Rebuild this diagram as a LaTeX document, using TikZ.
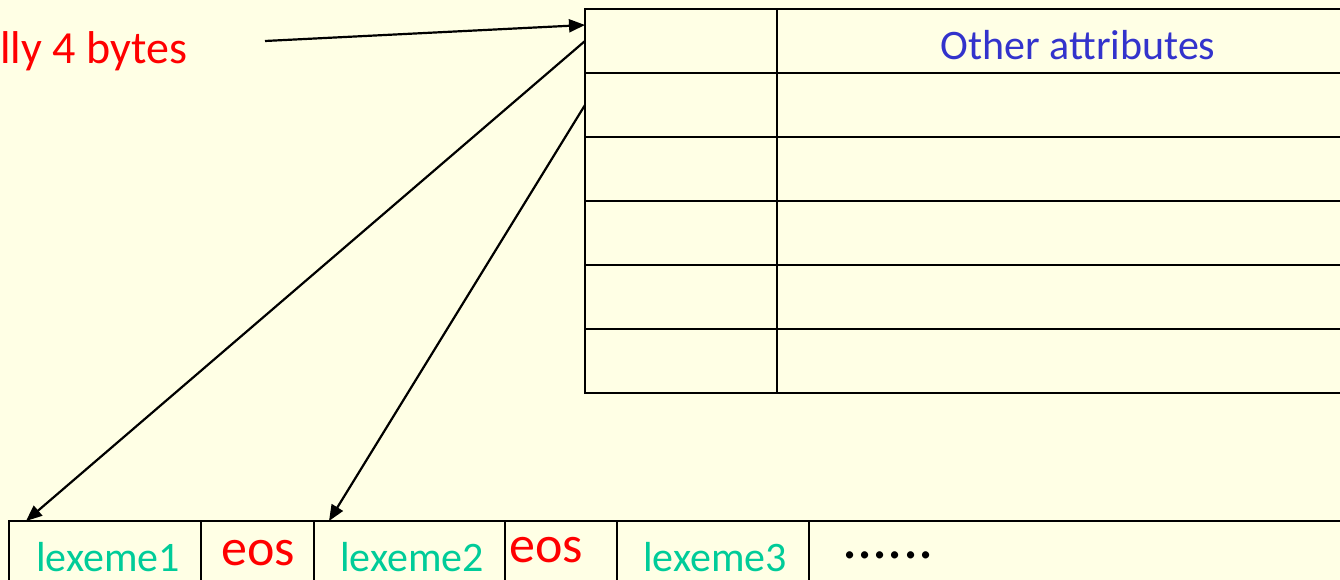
\documentclass[tikz,border=0pt]{standalone}
\usepackage{fontspec}
\setmainfont{Carlito}
\usetikzlibrary{arrows.meta,calc}
\definecolor{bgyellow}{RGB}{255,255,229}
\definecolor{attrblue}{RGB}{51,51,204}
\definecolor{lexgreen}{RGB}{0,204,153}
\definecolor{eosred}{RGB}{255,0,0}
\begin{document}
\begin{tikzpicture}[x=1pt,y=-1pt,
  cellbox/.style={draw=black,line width=2.2pt,minimum width=#1,minimum height=64pt,inner sep=0pt,outer sep=0pt,anchor=north west},
  lowbox/.style={draw=black,line width=2.2pt,minimum width=#1,minimum height=100pt,inner sep=0pt,outer sep=0pt,anchor=north west},
  ptr/.style={-{Triangle[length=16pt,width=13pt]},line width=2.2pt},
  lextext/.style={text=lexgreen,inner sep=0pt,anchor=base,font=\fontsize{42}{50}\selectfont},
  eostext/.style={text=eosred,inner sep=0pt,anchor=base,font=\fontsize{52}{60}\selectfont}]
\useasboundingbox (0,0) rectangle (1340,580);
\fill[bgyellow] (0,0) rectangle (1340,580);
\begin{scope}
\clip (0,0) rectangle (1340,580);
% table
\foreach \k in {1,...,6}{
  \node[cellbox=192pt] (c\k) at (585,{9+64*(\k-1)}) {};
  \node[cellbox=600pt] (a\k) at (777,{9+64*(\k-1)}) {};
}
\node[text=attrblue,inner sep=0pt,anchor=base,font=\fontsize{42}{50}\selectfont] (oa) at (1078,60) {Other attributes};
% lexeme row
\node[lowbox=192pt] (b1) at (9,521) {};
\node[lowbox=113pt] (e1) at (201,521) {};
\node[lowbox=191pt] (b2) at (314,521) {};
\node[lowbox=112pt] (e2) at (505,521) {};
\node[lowbox=192pt] (b3) at (617,521) {};
\node[lowbox=600pt] (b4) at (809,521) {};
\node[lextext] (l1) at (108,571) {lexeme1};
\node[eostext] (eo1) at (258,565) {eos};
\node[lextext] (l2) at (412,571) {lexeme2};
\node[eostext] (eo2) at (546,562) {eos};
\node[lextext] (l3) at (715,571) {lexeme3};
\node[inner sep=0pt,anchor=base,font=\fontsize{60}{60}\selectfont] (dots) at (888,558) {......};
% label
\node[text=eosred,inner sep=0pt,anchor=base west,font=\fontsize{46}{55}\selectfont] (size) at (0,64) {lly 4 bytes};
\coordinate (tail) at (265,41);
% pointers
\draw[ptr] (tail) -- ($(c1.north west)!0.25!(c1.south west)$);
\draw[ptr] (c1.west) -- ($(b1.north west)+(17,0)$);
\draw[ptr] (c2.west) -- ($(b2.north west)+(15,0)$);
\end{scope}
\end{tikzpicture}
\end{document}
